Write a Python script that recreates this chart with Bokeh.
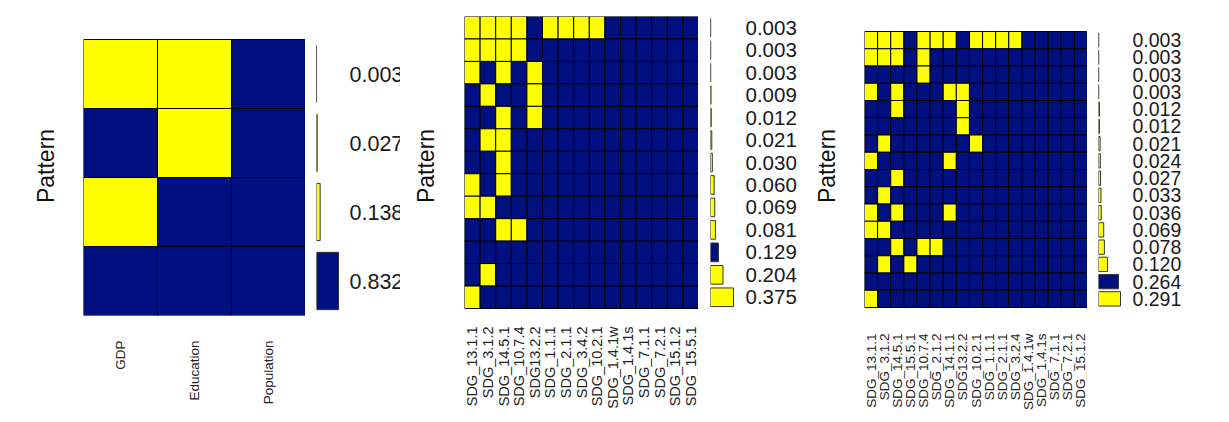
import math
from bokeh.plotting import figure
from bokeh.models import FactorRange, Range1d, ColumnDataSource, LinearAxis, FixedTicker
from bokeh.layouts import row
from bokeh.embed import file_html
from bokeh.resources import INLINE
from bokeh.core.properties import value

# ---------------- data ----------------
# patterns listed top to bottom; "1" = missing (yellow), "0" = observed (blue)
p1_cols = ["GDP", "Education", "Population"]
p1_patterns = ["110", "010", "100", "000"]
p1_props = [0.003, 0.027, 0.138, 0.832]

p2_cols = ["SDG_13.1.1", "SDG_3.1.2", "SDG_14.5.1", "SDG_10.7.4", "SDG13.2.2",
           "SDG_1.1.1", "SDG_2.1.1", "SDG_3.4.2", "SDG_10.2.1", "SDG_1.4.1w",
           "SDG_1.4.1s", "SDG_7.1.1", "SDG_7.2.1", "SDG_15.1.2", "SDG_15.5.1"]
p2_patterns = ["111101111000000", "111100000000000", "101010000000000",
               "010010000000000", "001010000000000", "011000000000000",
               "001000000000000", "101000000000000", "110000000000000",
               "001100000000000", "000000000000000", "010000000000000",
               "100000000000000"]
p2_props = [0.003, 0.003, 0.003, 0.009, 0.012, 0.021, 0.030, 0.060, 0.069,
            0.081, 0.129, 0.204, 0.375]

p3_cols = ["SDG_13.1.1", "SDG_3.1.2", "SDG_14.5.1", "SDG_15.5.1", "SDG_10.7.4",
           "SDG_2.1.2", "SDG_14.1.1", "SDG13.2.2", "SDG_10.2.1", "SDG_1.1.1",
           "SDG_2.1.1", "SDG_3.2.4", "SDG_1.4.1w", "SDG_1.4.1s", "SDG_7.1.1",
           "SDG_7.2.1", "SDG_15.1.2"]
p3_patterns = ["11101110111100000", "11101000000000000", "00001000000000000",
               "10100011000000000", "00100001000000000", "00000001000000000",
               "01000000100000000", "10000010000000000", "00100000000000000",
               "01000000000000000", "10100010000000000", "11000000000000000",
               "00101100000000000", "01010000000000000", "00000000000000000",
               "10000000000000000"]
p3_props = [0.003, 0.003, 0.003, 0.003, 0.012, 0.012, 0.021, 0.024, 0.027,
            0.033, 0.036, 0.069, 0.078, 0.120, 0.264, 0.291]

# ---------------- style / layout ----------------
YELLOW = "#FFFF00"
BLUE = "#001080"
FONT = "Liberation Sans"
H = 420          # figure height
T, B = 16, 315   # common plotting-frame top / bottom (pixels)


def panel(cols, patterns, props, left, fw, gtop, gbot, gap, bar_w, bar_px,
          lab_off, col_fs, prop_fs, pat_standoff, col_standoff):
    n = len(patterns)
    ppu = (gbot - gtop) / n
    yr = Range1d(-(B - gbot) / ppu, n + (gtop - T) / ppu)
    ypos = [n - i - 0.5 for i in range(n)]

    g = figure(width=left + fw, height=H, x_range=FactorRange(factors=cols),
               y_range=yr, toolbar_location=None, output_backend="svg",
               y_axis_location=None,
               min_border_left=left, min_border_right=0,
               min_border_top=T, min_border_bottom=H - B,
               outline_line_color=None)
    xs, ys, cs = [], [], []
    for yv, pat in zip(ypos, patterns):
        for c, ch in zip(cols, pat):
            xs.append(c)
            ys.append(yv)
            cs.append(YELLOW if ch == "1" else BLUE)
    g.rect(x=xs, y=ys, width=1, height=1, fill_color=cs,
           line_color="#000000", line_width=1)
    g.xgrid.grid_line_color = None
    g.ygrid.grid_line_color = None

    ya = LinearAxis(ticker=FixedTicker(ticks=[]), axis_label="Pattern")
    ya.axis_label_text_font = FONT
    ya.axis_label_text_font_size = "23px"
    ya.axis_label_text_font_style = "normal"
    ya.axis_label_text_color = "#111111"
    ya.axis_label_standoff = pat_standoff
    ya.major_tick_line_color = None
    ya.minor_tick_line_color = None
    ya.axis_line_color = None
    g.add_layout(ya, "left")

    xa = g.xaxis[0]
    xa.major_label_orientation = math.pi / 2
    xa.major_label_text_font = FONT
    xa.major_label_text_font_size = col_fs
    xa.major_label_text_color = "#222222"
    xa.major_label_standoff = col_standoff
    xa.major_tick_line_color = None
    xa.axis_line_color = None

    vmax = max(props)
    b = figure(width=gap + bar_w, height=H,
               x_range=Range1d(0, vmax * bar_w / bar_px), y_range=yr,
               toolbar_location=None, output_backend="svg",
               x_axis_location=None, y_axis_location=None,
               min_border_left=gap, min_border_right=0,
               min_border_top=T, min_border_bottom=H - B,
               outline_line_color=None)
    b.xgrid.grid_line_color = None
    b.ygrid.grid_line_color = None
    bcol = [BLUE if "1" not in pat else YELLOW for pat in patterns]
    src = ColumnDataSource(dict(y=ypos, v=props, c=bcol,
                                lab=["%.3f" % v for v in props],
                                x0=[0] * n))
    b.hbar(y="y", left=0, right="v", height=0.83, fill_color="c",
           line_color="#333333", line_width=1, source=src)
    b.text(x="x0", y="y", text="lab", source=src, x_offset=lab_off,
           text_font=value(FONT), text_font_size=prop_fs,
           text_baseline="middle", text_align="left", text_color="#1a1a1a")
    return [g, b]


figs = []
figs += panel(p1_cols, p1_patterns, p1_props, left=83, fw=222, gtop=39, gbot=315,
              gap=11, bar_w=84, bar_px=22, lab_off=33, col_fs="13.5px",
              prop_fs="21.5px", pat_standoff=25, col_standoff=19)
figs += panel(p2_cols, p2_patterns, p2_props, left=64, fw=234, gtop=16, gbot=308,
              gap=12, bar_w=90, bar_px=23, lab_off=35, col_fs="14.5px",
              prop_fs="20.5px", pat_standoff=26, col_standoff=5)
figs += panel(p3_cols, p3_patterns, p3_props, left=64, fw=223, gtop=31, gbot=307,
              gap=11, bar_w=131, bar_px=22, lab_off=34, col_fs="13.5px",
              prop_fs="19.5px", pat_standoff=25, col_standoff=12)

layout = row(*figs)
open("out.html", "w").write(file_html(layout, INLINE))
